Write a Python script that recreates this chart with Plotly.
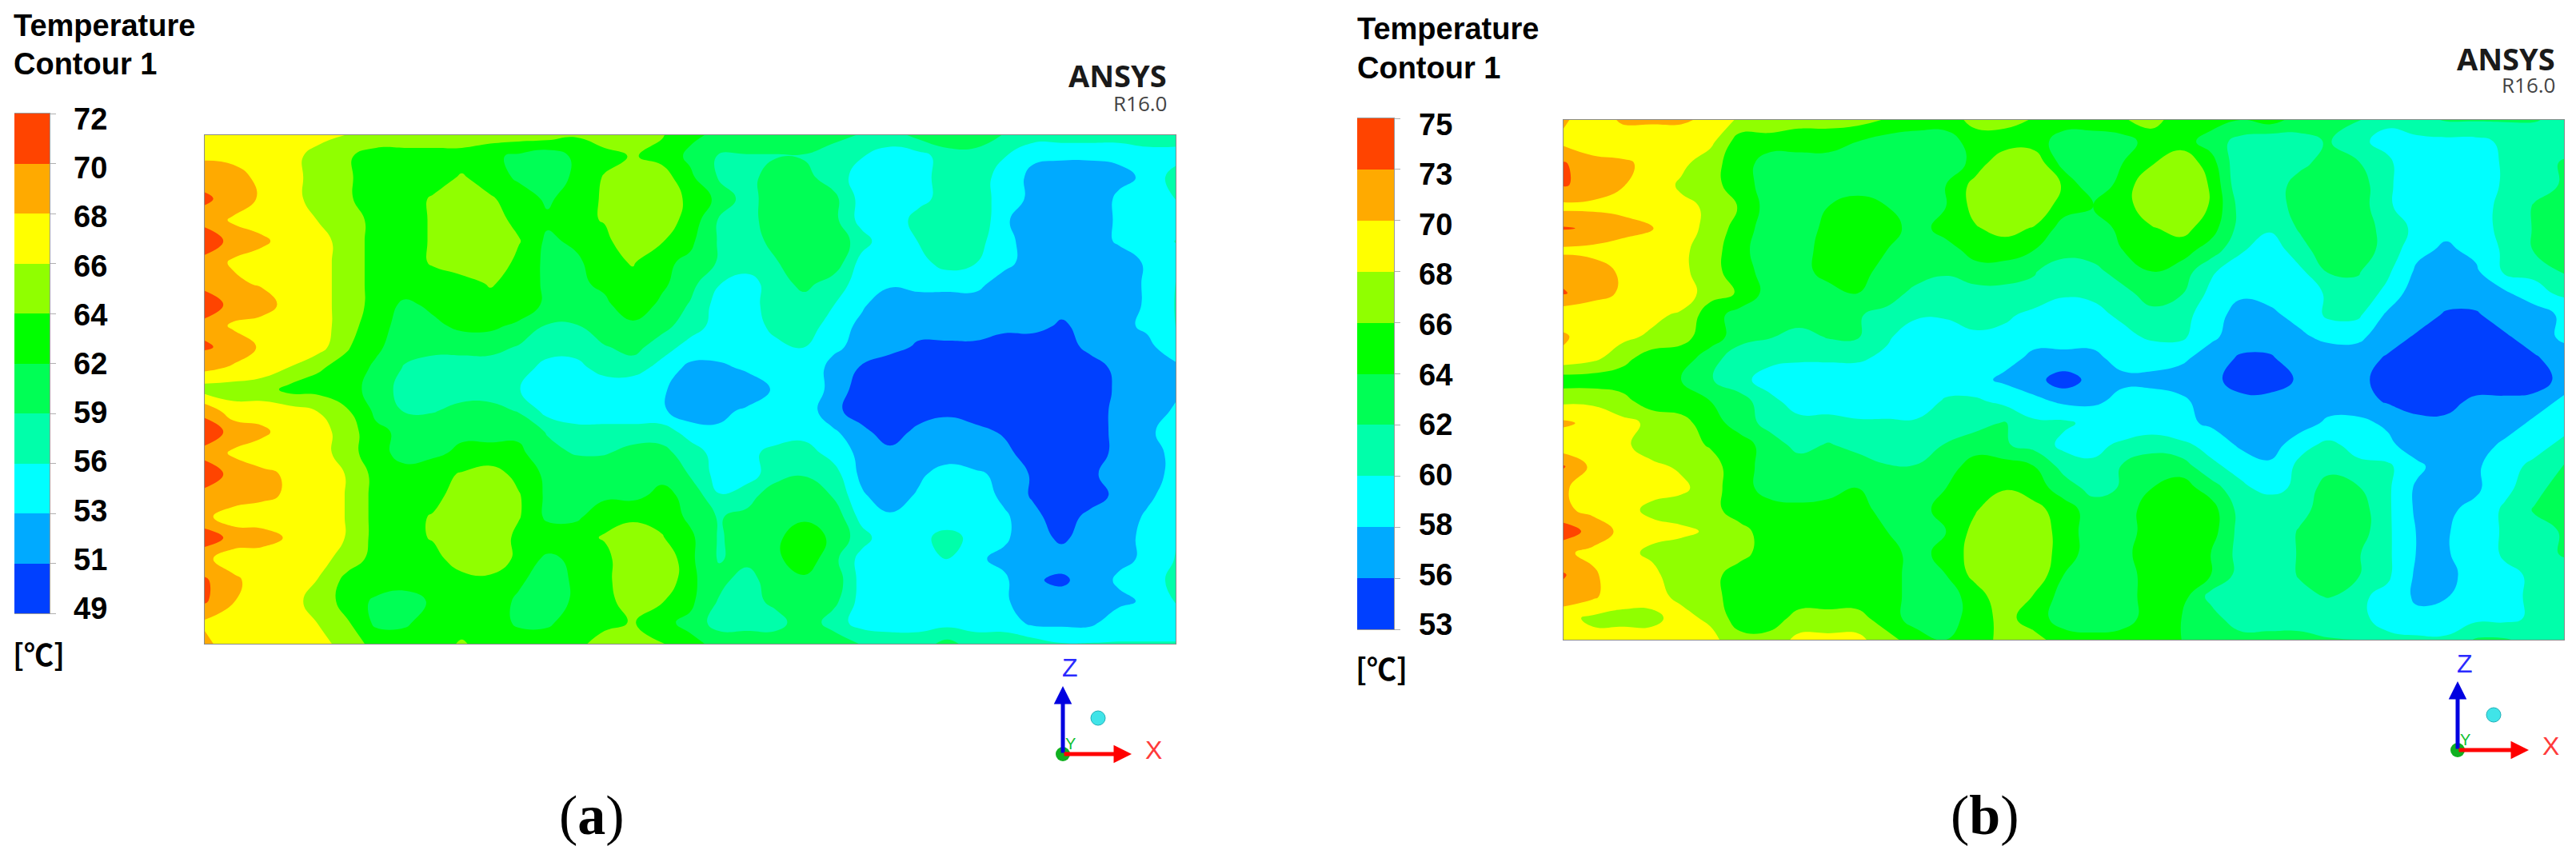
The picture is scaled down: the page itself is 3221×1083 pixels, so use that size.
import plotly.graph_objects as go

W, H = 3221, 1083

band_colors = ["#0040ff", "#00aaff", "#00ffff", "#00ffaa", "#00ff55",
               "#00ff00", "#90ff00", "#ffff00", "#ffaa00", "#ff4400"]

levels_a = [49, 51.3, 53.6, 55.9, 58.2, 60.5, 62.8, 65.1, 67.4, 69.7, 72]
labels_a = ["49", "51", "53", "56", "59", "62", "64", "66", "68", "70", "72"]
levels_b = [53, 55.2, 57.4, 59.6, 61.8, 64, 66.2, 68.4, 70.6, 72.8, 75]
labels_b = ["53", "56", "58", "60", "62", "64", "66", "68", "70", "73", "75"]

# temperature, rows top to bottom, columns left to right
temp_a = [
    [67,66,66,66,66,65,64,64,64,64,64,64,64,63,64,63,63,61,60,60,60,60,59,58,57,59,60,60,58,57,57,57,57,57,57],
    [67,67,66,66,64,63,62,62,62,62,61,60,59,61,62,63,62,60,58,58,58,58,57,56,55,55,57,57,56,54,54,54,54,55,55],
    [69,68,67,66,64,63,62,62,62,63,62,60,59,61,63,64,64,61,58,57,60,59,57,55,54,55,57,57,55,53,52,52,53,54,57],
    [70,69,67,66,64,63,62,62,63,64,63,62,60,62,63,64,65,62,60,57,60,60,59,55,54,55,57,57,55,53,52,52,54,54,56],
    [69,67,66,66,65,64,62,62,63,65,64,62,61,62,63,65,64,62,58,57,60,60,59,55,54,57,58,58,54,52,52,52,54,54,54],
    [71,69,68,66,66,64,62,62,63,65,65,63,60,61,62,65,63,61,58,57,59,60,60,57,54,56,57,57,54,53,52,52,54,54,56],
    [69,67,66,66,66,64,62,62,63,64,65,62,60,60,62,63,61,60,58,57,58,60,60,55,54,55,57,56,54,53,52,52,52,54,55],
    [69,68,67,66,66,64,62,62,62,62,63,62,60,60,61,62,61,59,56,55,57,59,57,55,54,54,54,54,53,52,52,52,52,54,56],
    [71,69,69,66,66,64,62,60,61,62,62,62,60,60,60,62,60,58,55,55,57,57,56,54,52,53,53,53,52,52,52,52,52,54,56],
    [69,67,66,66,66,64,61,60,60,61,61,60,58,58,60,60,59,57,55,54,57,57,55,53,52,52,52,52,52,52,51,52,53,54,56],
    [70,69,67,66,66,63,61,59,59,59,59,58,57,57,58,59,57,55,55,54,55,56,54,53,52,51,51,51,50,50,50,52,52,53,55],
    [68,67,66,65,63,62,60,58,57,57,57,57,55,55,57,57,55,53,53,54,54,55,53,51,50,50,50,50,50,49,49,50,52,52,53],
    [64,64,64,62,62,61,60,57,57,57,57,56,54,54,54,54,54,52,52,52,54,55,53,50,49,49,50,49,49,49,49,49,52,52,53],
    [69,66,66,66,65,63,60,58,58,59,59,58,55,54,54,54,54,52,53,54,54,55,52,50,50,50,51,50,50,50,50,50,52,52,54],
    [71,69,68,66,66,64,61,60,60,60,60,60,58,57,57,57,57,55,54,54,54,55,54,52,50,52,52,52,51,50,50,50,52,53,55],
    [69,67,66,66,66,64,61,60,60,61,61,61,59,58,58,59,59,57,55,55,57,57,55,53,52,52,52,52,52,50,49,50,52,53,54],
    [71,69,68,67,66,65,62,61,62,63,64,62,60,60,60,60,60,58,55,55,57,58,57,53,52,53,55,54,53,51,50,51,52,53,54],
    [69,69,68,67,66,65,62,62,62,64,65,63,60,60,60,60,61,60,56,57,60,60,58,54,52,54,55,55,53,51,50,50,52,53,55],
    [68,66,66,66,66,65,62,62,63,65,65,63,60,60,62,62,62,60,58,59,60,60,60,55,54,54,54,54,54,52,50,52,52,54,54],
    [71,69,68.5,67,66,65,62,62,63,65,65,62,62,62,63,65,63,61,58,59,60,62,60,57,54,55,57,55,54,52,51,52,53,54,56],
    [68,66,66,66,66,64,62,62,62,64,65,62,60,61,62,65,65,61,58,59,60,62,59,55,54,55,56,54,53,52,52,52,53,54,56],
    [70,68,66,66,65,62,62,62,62,62,62,61,59,61,62,65,65,61,59,57,60,60,60,55,54,54,54,54,54,51.5,51,52,54,54,57],
    [70,67.5,66,66,64,62,60,59,61,62,62,60,59,61,62,64,63,61,58,57,59,60,59,55,54,54,54,54,54,52,52,52,53,54,56],
    [67,66,66,66,65,63,60,60,62,62,62,60,60,62,62,63,61,60,57,57,57,60,57,55,55,55,55,55,55,53,53,53,55,55,55],
    [68,66,67,67,66,64,62,62,62,63,62,62,62,62,64,64,63,61,60,60,60,60,60,58,57,57,59,57,57,57,56,56,56,56,56],
]

temp_b = [
    [71,69,71,71,71,70,68,68,67,67,67,66,65,65,67,67,66,65,65,66,67,65,65,64,65,63,62,62,60,61,62,62,62,62,61],
    [70,69,69,69,69,69,65,65,65,65,64,63,63,63,65,65,65,63,63,63,65,65,63,61,60,61,62,60,59,59,59,59,60,60,61],
    [73,71.5,71,70,69,67,65,63,63,63,63,63,63,62,65,68,68,63,63,64,66,68,65,60,60,61,63,62,60,58,58,58,60,61,62],
    [73,72,70.7,70,68,67,65,63,63,63,63,63,63,64,67,68,68,66,62,65,68,68,66,60,60,63,62,63,60,58,58,58,60,61,62],
    [70,70,69.5,69,69,68,66,63,63,64,65,64,62,64,67,68,68,65,64,65,68,68,66,61,60,63,63,63,60,58,58,59,60,62,63],
    [73,72.5,72,70.7,69,68,65,63,62,65,66,65,63,65,66,67,66,63,62,65,66,67,65,61,60,62,63,63,61,59,58,59,60,62,63],
    [70.2,70,69,69,69,67,65,62,63,65,65,64,63,63,65,65,64,63,63,64,65,65,63,60,58,61,63,63,61,58,57,58,60,62,63],
    [72,71.5,70.3,70,69,67,65,63,63,65,65,63,63,62,63,63,62,60,61,63,64,63,60,58,58,59,62,62,60,57,57,57,60,60,62],
    [73,71.5,70.3,70,70,67,66,63,63,63,64,63,61,61,61,61,61,60,60,61,63,62,59,58,58,58,60,61,59,56,56,56,57,59,60],
    [69,69,69,69,68,65,63,63,63,63,62,61,60,60,61,60,59,58,59,60,61,60,59,56,57,58,60,60,57,56,55,55,56,56,58],
    [71,69,69,68,67,65,63,62,61,62,62,60,58,58,59,59,58,58,58,59,60,60,58,56,56,57,58,58,56,55,54,55,55,56,58],
    [70,69,67,65,65,63,60,60,60,60,60,59,58,58,58,58,57,57,57,58,58,58,56,55,55,56,56,56,55,54,54,54,54,55,56],
    [65,65,65,65,64,62,60,59,58,58,58,58,58,58,58,57,56,54,56,57,57,56,56,54,54,55.5,56,56,54,53,53,53,53,54,56],
    [68,68,67,65,65,64,63,60,59,59,58,58,58,60,60,59,58,57,57,58,58,58,56,56,56,56,56,56,55,54,54,56,56,56,58],
    [71,70,69,68,67,65,63,61,60,60,60,60,60,60,61,62,60,60,59,58,58,58,57,56,56,56,58,58,57,56,56,56,56,58,59],
    [69,69,69,67,67,66,65,63,61,62,61,60,60,62,63,62,61,59,59,60,61,60,59,57,56,59,60,59,58,56,56,56,58,59,60],
    [73,70,69,69,68,67,65,63,63,63,63,62,62,63,65,65,64,61,60,62,63,63,60,59,58,60,61,60,60,58,56,57,59,60,62],
    [71,69,69,69,69,67,65,63,62,63,64,63,62,64,65,66,65,63,61,62,64,65,63,60,59,60,63,62,60,57,56,57,59,61,63],
    [71,70,69,68,67,67,65,65,65,65,65,63,63,65,66,68,67,65,63,63,65,66,65,61,61,61,63,63,60,57,57,58,60,62,63],
    [74,72,70,69,69,68,67,65,65,65,65,64,62,64,67,68,68,65,63,63,65,66,65,61,60,62,63,63,60,57.3,57.3,58,60,61,62],
    [71,70,69,68,67,67,67,65,65,65,65,65,63,65,67,68,68,65,63,63,66,66,64,61,60,62,63,62,60,57.3,57.3,58,60,61,62],
    [73,71,69,69,67,67,65,65,65,65,65,65,63,64,67,68,68,64,63,63,65,66,64,61,60,62,63,62,60,57,57,58,59,60,61],
    [72,71,69,69,68,67,65,65,65,65,65,65,63,63,65,68,66,63,62,63,65,65,61,60,60,61,62,60,59,57,57.3,59,59,60,61],
    [69,68,68,68,69,68,65,65,67,67,67,65,63,63,65,67,65,63,62,63,65,64,63,60,60,60,60,60,59,58,58,59,59,60,60],
    [69,69,69,69,69,69,67,67,69,69,69,67,65,64,65,67,67,65,65,65,65,64,64,63,63,63,62,62,60,60,60,62,62,61,61],
]

title_lines = ["Temperature", "Contour 1"]
unit = "[℃]"


def px(x):
    return x / W


def py(y):
    return 1 - y / H


def band_scale():
    n = len(band_colors)
    out = []
    for i, c in enumerate(band_colors):
        out.append([i / n, c])
        out.append([(i + 1) / n, c])
    return out


def add_panel(fig, temp, levels, labels, n, box, bar, title_pos, label_x, label_ys, unit_pos,
              logo_x, logo_ys, origin, arrow_x, arrow_z, sphere, caption, caption_x):
    # contour map
    fig.add_trace(go.Contour(
        z=temp, x=list(range(len(temp[0]))), y=list(range(len(temp))),
        colorscale=band_scale(), zmin=levels[0], zmax=levels[-1], showscale=False,
        contours=dict(coloring="fill", start=levels[1], end=levels[-2],
                      size=round(levels[1] - levels[0], 3), showlines=False),
        line=dict(width=0, smoothing=1.3), hoverinfo="skip",
        xaxis=f"x{n}", yaxis=f"y{n}"))
    fig.layout[f"xaxis{n}"] = dict(domain=[px(box[0]), px(box[1])], range=[0, len(temp[0]) - 1],
                                   showgrid=False, zeroline=False, showticklabels=False,
                                   showline=True, mirror=True, linecolor="#8a8a8a", linewidth=1,
                                   anchor=f"y{n}")
    fig.layout[f"yaxis{n}"] = dict(domain=[py(box[3]), py(box[2])], range=[len(temp) - 1, 0],
                                   showgrid=False, zeroline=False, showticklabels=False,
                                   showline=True, mirror=True, linecolor="#8a8a8a", linewidth=1,
                                   anchor=f"x{n}")
    # legend bar
    m = n + 2
    mids = [[(levels[i] + levels[i + 1]) / 2] for i in range(len(levels) - 1)]
    fig.add_trace(go.Heatmap(
        z=mids, x=[0, 1], y=levels, colorscale=band_scale(), zmin=levels[0], zmax=levels[-1],
        showscale=False, hoverinfo="skip", xaxis=f"x{m}", yaxis=f"y{m}"))
    fig.layout[f"xaxis{m}"] = dict(domain=[px(bar[0]), px(bar[1])], range=[0, 1], showgrid=False,
                                   zeroline=False, showticklabels=False, showline=True, mirror=True,
                                   linecolor="#9a9a9a", linewidth=1, anchor=f"y{m}")
    fig.layout[f"yaxis{m}"] = dict(domain=[py(bar[3]), py(bar[2])], range=[levels[0], levels[-1]],
                                   showgrid=False, zeroline=False, side="right", anchor=f"x{m}",
                                   tickvals=levels, ticks="outside", ticklen=7, tickwidth=1,
                                   tickcolor="#b0b0b0", showticklabels=False,
                                   showline=True, linecolor="#9a9a9a", linewidth=1)

    sans = "Liberation Sans"
    notes = []

    def note(x, y, text, size, color="black", family=sans, xanchor="left", weight="normal"):
        notes.append(dict(x=px(x), y=py(y), xref="paper", yref="paper", text=text, showarrow=False,
                          xanchor=xanchor, yanchor="middle",
                          font=dict(size=size, color=color, family=family, weight=weight)))

    note(title_pos[0], title_pos[1], title_lines[0], 38, weight="bold")
    note(title_pos[0], title_pos[2], title_lines[1], 38, weight="bold")
    for i, lab in enumerate(labels):
        y = label_ys[1] + i * (label_ys[0] - label_ys[1]) / (len(labels) - 1)
        note(label_x, y, lab, 38, weight="bold")
    note(unit_pos[0], unit_pos[1], unit, 37, family="Noto Sans CJK SC", weight="bold")
    note(logo_x, logo_ys[0], "ANSYS", 38, color="#1a1a1a", family="Open Sans", xanchor="right", weight="bold")
    note(logo_x, logo_ys[1], "R16.0", 26, color="#444444", family="Open Sans", xanchor="right")
    note(caption_x, 1019, f"(<b>{caption}</b>)", 70, family="Liberation Serif", xanchor="center")

    # triad
    ox, oy = origin
    note(ox + 9, oy - 108, "Z", 32, color="#2a2aff", xanchor="center")
    note(arrow_x + 27, oy - 5, "X", 32, color="#ff3a3a", xanchor="center")
    note(ox + 9, oy - 13, "Y", 20, color="#10c030", xanchor="center")
    fig.add_shape(type="circle", xref="paper", yref="paper", x0=px(ox - 9), x1=px(ox + 9),
                  y0=py(oy + 9), y1=py(oy - 9), fillcolor="#10b020", line_width=0)
    for tx, ty, col in [(ox, arrow_z, "#0000e0"), (arrow_x, oy, "#ff0000")]:
        notes.append(dict(x=px(tx), y=py(ty), xref="paper", yref="paper", ax=ox - tx, ay=oy - ty,
                          axref="pixel", ayref="pixel", text="", showarrow=True, arrowhead=2,
                          arrowsize=0.9, arrowwidth=5, arrowcolor=col))
    fig.add_shape(type="circle", xref="paper", yref="paper", x0=px(sphere[0] - 9), x1=px(sphere[0] + 9),
                  y0=py(sphere[1] + 9), y1=py(sphere[1] - 9), fillcolor="#40e4e8",
                  line=dict(color="#20b0b8", width=1))
    return notes


fig = go.Figure()
notes_a = add_panel(fig, temp_a, levels_a, labels_a, 1, box=(256, 1470, 169, 805), bar=(18, 62, 142, 767),
                    title_pos=(15, 32, 80), label_x=90, label_ys=(149, 761), unit_pos=(14, 817),
                    logo_x=1461, logo_ys=(94, 129), origin=(1329, 943), arrow_x=1415, arrow_z=858,
                    sphere=(1373, 898), caption="a", caption_x=740)
notes_b = add_panel(fig, temp_b, levels_b, labels_b, 2, box=(1955, 3206, 150, 800), bar=(1697, 1743, 148, 787),
                    title_pos=(1695, 36, 85), label_x=1772, label_ys=(156, 781), unit_pos=(1693, 835),
                    logo_x=3197, logo_ys=(73, 106), origin=(3073, 938), arrow_x=3162, arrow_z=852,
                    sphere=(3118, 894), caption="b", caption_x=2482)

fig.update_layout(width=W, height=H, autosize=False, margin=dict(l=0, r=0, t=0, b=0),
                  paper_bgcolor="white", plot_bgcolor="white", showlegend=False,
                  annotations=notes_a + notes_b)

fig.write_html("out.html", config={"displayModeBar": False},
               post_script="document.body.style.margin='0';document.body.style.overflow='hidden';")
